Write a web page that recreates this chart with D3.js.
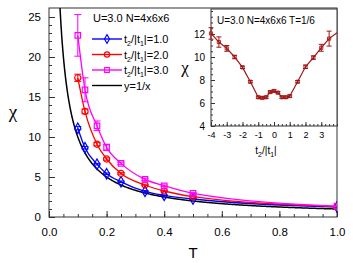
<!DOCTYPE html>
<html>
<head>
<meta charset="utf-8">
<script src="https://cdn.jsdelivr.net/npm/d3@7"></script>
<style>
  body { margin: 0; background: #fff; }
  svg { font-family: "Liberation Sans", Arial, sans-serif; }
</style>
</head>
<body>
<div id="chart"></div>
<script>
// main panel data
const temps = [0.1, 0.125, 1 / 6, 0.2, 0.25, 1 / 3, 0.4, 0.5, 1.0];
const chi1 = [11.1, 8.65, 6.6, 5.4, 4.4, 3.2, 2.7, 2.25, 1.25];
const chi2 = [17.4, 13.2, 9.1, 7.25, 5.45, 4.0, 3.25, 2.55, 1.3];
const chi3 = [22.7, 15.9, 11.4, 8.7, 6.7, 4.7, 3.9, 2.95, 1.35];
const err1 = [0.2, 0.15, 0.1, 0.1, 0.1, 0.1, 0.05, 0.05, 0.05];
const err2 = [0.45, 0.3, 0.2, 0.15, 0.1, 0.1, 0.1, 0.05, 0.05];
const err3 = [2.6, 1.5, 0.6, 0.4, 0.15, 0.15, 0.1, 0.1, 0.05];
const xTicks = [0.0, 0.2, 0.4, 0.6, 0.8, 1.0];
const yTicks = [0, 5, 10, 15, 20, 25];

// inset data (T = 1/6)
const ratio = [-4, -3.5, -3, -2.5, -2, -1.5, -1, -0.75, -0.5, -0.25, 0, 0.25, 0.5, 0.75, 1, 1.5, 2, 2.5, 3, 3.5];
const chiR = [12.05, 11.3, 10.75, 10.0, 9.1, 7.85, 6.5, 6.45, 6.5, 6.95, 7.05, 6.9, 6.5, 6.5, 6.6, 7.85, 9.15, 9.95, 10.8, 11.6];
const errR = [0.5, 0.45, 0.25, 0.15, 0.1, 0.1, 0.1, 0.1, 0.1, 0.1, 0.1, 0.1, 0.1, 0.1, 0.1, 0.1, 0.15, 0.15, 0.3, 0.65];
const lineEnd = { t: 4, chi: 12.1 };
const insetXTicks = [-4, -3, -2, -1, 0, 1, 2, 3];
const insetYTicks = [4, 6, 8, 10, 12];

const W = 353, H = 263;
const svg = d3.select("#chart").append("svg").attr("width", W).attr("height", H);

const pL = 49, pR = 337, pT = 8, pB = 217;
const x = d3.scaleLinear().domain([0, 1]).range([pL, pR]);
const y = d3.scaleLinear().domain([0, 26.125]).range([pB, pT]);

const axisColor = "#333";

// frame
svg.append("rect").attr("x", pL).attr("y", pT).attr("width", pR - pL).attr("height", pB - pT)
  .attr("fill", "none").attr("stroke", axisColor).attr("stroke-width", 1);

// x axis (ticks inside)
svg.append("g").attr("transform", "translate(0," + pB + ")")
  .call(d3.axisBottom(x).tickValues(d3.range(0, 1.0001, 0.05)).tickSize(-3).tickFormat(""))
  .call(g => g.select(".domain").remove())
  .selectAll("line").attr("stroke", axisColor);
svg.append("g").attr("transform", "translate(0," + pB + ")")
  .call(d3.axisBottom(x).tickValues(xTicks).tickSize(-6).tickPadding(11).tickFormat(d3.format(".1f")))
  .call(g => g.select(".domain").remove())
  .call(g => g.selectAll("line").attr("stroke", axisColor))
  .selectAll("text").attr("font-size", 11.5).attr("fill", "#000");

// y axis
svg.append("g").attr("transform", "translate(" + pL + ",0)")
  .call(d3.axisLeft(y).tickValues(d3.range(0, 26, 1)).tickSize(-3).tickFormat(""))
  .call(g => g.select(".domain").remove())
  .selectAll("line").attr("stroke", axisColor);
svg.append("g").attr("transform", "translate(" + pL + ",0)")
  .call(d3.axisLeft(y).tickValues(yTicks).tickSize(-6).tickPadding(8))
  .call(g => g.select(".domain").remove())
  .call(g => g.selectAll("line").attr("stroke", axisColor))
  .selectAll("text").attr("font-size", 11.5).attr("fill", "#000");

svg.append("text").attr("x", 193).attr("y", 258).attr("text-anchor", "middle")
  .attr("font-size", 15).text("T");
svg.append("text").attr("x", 13).attr("y", 118).attr("text-anchor", "middle")
  .attr("font-family", "Liberation Serif").attr("font-size", 19).text("χ");

const plot = svg.append("g");
plot.append("clipPath").attr("id", "clip").append("rect")
  .attr("x", pL).attr("y", pT).attr("width", pR - pL).attr("height", pB - pT);
const inner = plot.append("g").attr("clip-path", "url(#clip)");

// y = 1/x
const invX = d3.range(0.038, 1.0001, 0.002);
inner.append("path").datum(invX)
  .attr("d", d3.line().x(d => x(d)).y(d => y(1 / d)))
  .attr("fill", "none").attr("stroke", "#000").attr("stroke-width", 1.5);

const series = [
  { vals: chi1, errs: err1, color: "#0000ff", shape: d3.symbolDiamond },
  { vals: chi2, errs: err2, color: "#ff0000", shape: d3.symbolCircle },
  { vals: chi3, errs: err3, color: "#ff00ff", shape: d3.symbolSquare }
];

series.forEach(s => {
  const pts = temps.map((t, i) => ({ t: t, v: s.vals[i], e: s.errs[i] }));
  inner.append("path").datum(pts)
    .attr("d", d3.line().x(d => x(d.t)).y(d => y(d.v)).curve(d3.curveMonotoneX))
    .attr("fill", "none").attr("stroke", s.color).attr("stroke-width", 1.3);
  const eb = inner.append("g").attr("stroke", s.color).attr("stroke-width", 1);
  eb.selectAll(null).data(pts).enter().append("line")
    .attr("x1", d => x(d.t)).attr("x2", d => x(d.t))
    .attr("y1", d => y(d.v - d.e)).attr("y2", d => y(d.v + d.e));
  [1, -1].forEach(sg => {
    eb.selectAll(null).data(pts).enter().append("line")
      .attr("x1", d => x(d.t) - 3.5).attr("x2", d => x(d.t) + 3.5)
      .attr("y1", d => y(d.v + sg * d.e)).attr("y2", d => y(d.v + sg * d.e));
  });
  inner.selectAll(null).data(pts).enter().append("path")
    .attr("transform", d => "translate(" + x(d.t) + "," + y(d.v) + ")")
    .attr("d", d3.symbol().type(s.shape).size(s.shape === d3.symbolDiamond ? 32 : 30))
    .attr("fill", "none").attr("stroke", s.color).attr("stroke-width", 1.2);
});

// legend
const lg = svg.append("g");
lg.append("text").attr("x", 93).attr("y", 22).attr("font-size", 11).text("U=3.0 N=4x6x6");
const legendItems = [
  { color: "#0000ff", shape: d3.symbolDiamond, val: "1.0" },
  { color: "#ff0000", shape: d3.symbolCircle, val: "2.0" },
  { color: "#ff00ff", shape: d3.symbolSquare, val: "3.0" },
  { color: "#000", shape: null, val: null }
];
legendItems.forEach((d, i) => {
  const yy = 39 + i * 15.5;
  lg.append("line").attr("x1", 92).attr("x2", 122).attr("y1", yy).attr("y2", yy)
    .attr("stroke", d.color).attr("stroke-width", 1.4);
  if (d.shape) {
    lg.append("path").attr("transform", "translate(107," + yy + ")")
      .attr("d", d3.symbol().type(d.shape).size(22))
      .attr("fill", "none").attr("stroke", d.color).attr("stroke-width", 1.1);
  }
  const t = lg.append("text").attr("x", 124).attr("y", yy + 4).attr("font-size", 11);
  if (d.val) {
    t.append("tspan").text("t");
    t.append("tspan").attr("font-size", 7).attr("dy", 3).text("2");
    t.append("tspan").attr("dy", -3).text("/|t");
    t.append("tspan").attr("font-size", 7).attr("dy", 3).text("1");
    t.append("tspan").attr("dy", -3).text("|=" + d.val);
  } else {
    t.text("y=1/x");
  }
});

// inset
const iL = 211, iR = 337, iT = 9, iB = 126;
const ix = d3.scaleLinear().domain([-4, 4]).range([iL, iR]);
const iy = d3.scaleLinear().domain([4, 4 + (iB - iT) / 11.5]).range([iB, iT]);
const inset = svg.append("g");
inset.append("rect").attr("x", iL).attr("y", iT).attr("width", iR - iL).attr("height", iB - iT)
  .attr("fill", "#fff").attr("stroke", axisColor).attr("stroke-width", 1);

inset.append("g").attr("transform", "translate(0," + iB + ")")
  .call(d3.axisBottom(ix).tickValues(d3.range(-4, 4.001, 0.25)).tickSize(-2).tickFormat(""))
  .call(g => g.select(".domain").remove())
  .selectAll("line").attr("stroke", axisColor);
inset.append("g").attr("transform", "translate(0," + iB + ")")
  .call(d3.axisBottom(ix).tickValues(insetXTicks).tickSize(-4).tickPadding(6))
  .call(g => g.select(".domain").remove())
  .call(g => g.selectAll("line").attr("stroke", axisColor))
  .selectAll("text").attr("font-size", 9).attr("fill", "#000")
  .text(d => d < 0 ? "-" + Math.abs(d) : d);
inset.append("g").attr("transform", "translate(" + iL + ",0)")
  .call(d3.axisLeft(iy).tickValues(d3.range(4, 14.01, 0.5)).tickSize(-2).tickFormat(""))
  .call(g => g.select(".domain").remove())
  .selectAll("line").attr("stroke", axisColor);
inset.append("g").attr("transform", "translate(" + iL + ",0)")
  .call(d3.axisLeft(iy).tickValues(insetYTicks).tickSize(-4).tickPadding(6))
  .call(g => g.select(".domain").remove())
  .call(g => g.selectAll("line").attr("stroke", axisColor))
  .selectAll("text").attr("font-size", 10).attr("fill", "#000");

inset.append("text").attr("x", 217).attr("y", 24).attr("font-size", 10).text("U=3.0 N=4x6x6 T=1/6");
const il = inset.append("text").attr("x", 266).attr("y", 154).attr("text-anchor", "middle").attr("font-size", 10);
il.append("tspan").text("t");
il.append("tspan").attr("font-size", 7).attr("dy", 3).text("2");
il.append("tspan").attr("dy", -3).text("/|t");
il.append("tspan").attr("font-size", 7).attr("dy", 3).text("1");
il.append("tspan").attr("dy", -3).text("|");
inset.append("text").attr("x", 185).attr("y", 73).attr("text-anchor", "middle")
  .attr("font-family", "Liberation Serif").attr("font-size", 17).text("χ");

const darkRed = "#a01515";
const rpts = ratio.map((t, i) => ({ t: t, v: chiR[i], e: errR[i] }));
inset.append("path").datum(rpts.concat([{ t: lineEnd.t, v: lineEnd.chi, e: 0 }]))
  .attr("d", d3.line().x(d => ix(d.t)).y(d => iy(d.v)))
  .attr("fill", "none").attr("stroke", darkRed).attr("stroke-width", 1.2);
const ieb = inset.append("g").attr("stroke", darkRed).attr("stroke-width", 1);
ieb.selectAll(null).data(rpts).enter().append("line")
  .attr("x1", d => ix(d.t)).attr("x2", d => ix(d.t))
  .attr("y1", d => iy(d.v - d.e)).attr("y2", d => iy(d.v + d.e));
[1, -1].forEach(sg => {
  ieb.selectAll(null).data(rpts).enter().append("line")
    .attr("x1", d => ix(d.t) - 2.5).attr("x2", d => ix(d.t) + 2.5)
    .attr("y1", d => iy(d.v + sg * d.e)).attr("y2", d => iy(d.v + sg * d.e));
});
inset.selectAll(null).data(rpts).enter().append("path")
  .attr("transform", d => "translate(" + ix(d.t) + "," + iy(d.v) + ")")
  .attr("d", d3.symbol().type(d3.symbolSquare).size(10))
  .attr("fill", "none").attr("stroke", darkRed).attr("stroke-width", 0.9);
</script>
</body>
</html>
